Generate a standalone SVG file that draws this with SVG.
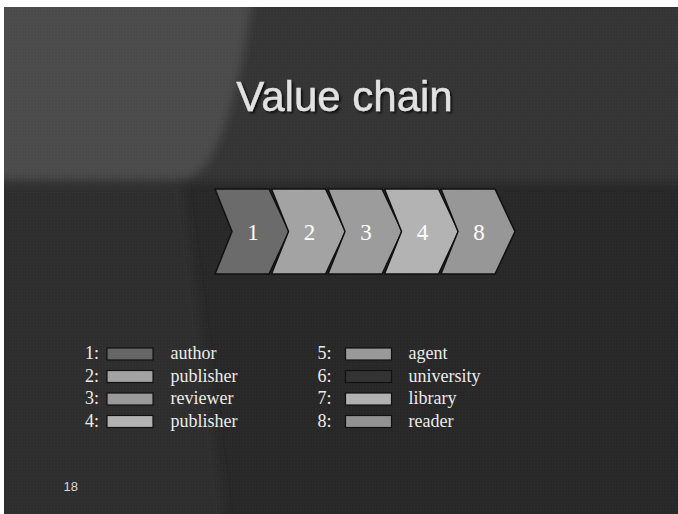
<svg xmlns="http://www.w3.org/2000/svg" width="678" height="514" viewBox="0 0 678 514">
  <defs>
    <filter id="blur" x="-10%" y="-10%" width="120%" height="120%">
      <feGaussianBlur stdDeviation="5"/>
    </filter>
    <filter id="shadow" x="-10%" y="-20%" width="120%" height="140%">
      <feGaussianBlur in="SourceAlpha" stdDeviation="0.8"/>
      <feOffset dx="2" dy="2" result="o"/>
      <feFlood flood-color="#000" flood-opacity="0.7"/>
      <feComposite in2="o" operator="in"/>
      <feMerge><feMergeNode/><feMergeNode in="SourceGraphic"/></feMerge>
    </filter>
    <pattern id="dots" width="3" height="3" patternUnits="userSpaceOnUse">
      <rect x="0" y="0" width="1" height="1" fill="#ffffff" fill-opacity="0.03"/>
    </pattern>
    <clipPath id="slide"><rect x="4" y="7" width="674" height="507"/></clipPath>
  </defs>
  <style>
    .chev { stroke: #111; stroke-width: 1.5; stroke-linejoin: miter; }
    .num { font-family: "Liberation Serif", "Times New Roman", serif; font-size: 23px; fill: #ffffff; text-anchor: middle; }
    .leg { font-family: "Liberation Serif", "Times New Roman", serif; font-size: 18px; fill: #ececec; }
    .sw { stroke: #111; stroke-width: 1.2; }
  </style>
  <rect x="0" y="0" width="678" height="514" fill="#ffffff"/>
  <g id="background" clip-path="url(#slide)">
    <rect x="4" y="7" width="674" height="507" fill="#282828"/>
    <g filter="url(#blur)">
      <rect x="-20" y="-20" width="720" height="202" fill="#363636"/>
      <path d="M-20,184 L183,184 C198,300 214,420 228,540 L-20,540 Z" fill="#2d2d2d"/>
      <path d="M-20,-20 L254,-20 C244,60 230,130 205,165 Q193,179 178,179 L-20,179 Z" fill="#4b4b4b"/>
    </g>
    <rect x="4" y="7" width="674" height="507" fill="url(#dots)"/>
  </g>
  <g id="title" filter="url(#shadow)">
    <text x="344.5" y="111" font-family="'Liberation Sans', Arial, sans-serif" font-size="42" fill="#e2e2e2" stroke="#e2e2e2" stroke-width="0.4" text-anchor="middle">Value chain</text>
  </g>
  <g id="chain">
    <g id="chev1">
      <path class="chev" fill="#6b6b6b" d="M215,189 L269,189 L289,231.5 L269,274 L215,274 L232,231.5 Z"/>
      <text class="num" x="253" y="240">1</text>
    </g>
    <g id="chev2">
      <path class="chev" fill="#a3a3a3" d="M271.5,189 L325.5,189 L345.5,231.5 L325.5,274 L271.5,274 L288.5,231.5 Z"/>
      <text class="num" x="309.5" y="240">2</text>
    </g>
    <g id="chev3">
      <path class="chev" fill="#9c9c9c" d="M328,189 L382,189 L402,231.5 L382,274 L328,274 L345,231.5 Z"/>
      <text class="num" x="366" y="240">3</text>
    </g>
    <g id="chev4">
      <path class="chev" fill="#b3b3b3" d="M384.5,189 L438.5,189 L458.5,231.5 L438.5,274 L384.5,274 L401.5,231.5 Z"/>
      <text class="num" x="422.5" y="240">4</text>
    </g>
    <g id="chev8">
      <path class="chev" fill="#979797" d="M441,189 L495,189 L515,231.5 L495,274 L441,274 L458,231.5 Z"/>
      <text class="num" x="479" y="240">8</text>
    </g>
  </g>
  <g id="connectors"></g>
  <g id="legend">
    <g id="leg1"><text class="leg" x="85" y="359">1:</text><rect class="sw" x="107" y="348" width="46" height="12" fill="#666666"/><text class="leg" x="170.5" y="359">author</text></g>
    <g id="leg2"><text class="leg" x="85" y="381.5">2:</text><rect class="sw" x="107" y="370.5" width="46" height="12" fill="#a2a2a2"/><text class="leg" x="170.5" y="381.5">publisher</text></g>
    <g id="leg3"><text class="leg" x="85" y="404">3:</text><rect class="sw" x="107" y="393" width="46" height="12" fill="#9a9a9a"/><text class="leg" x="170.5" y="404">reviewer</text></g>
    <g id="leg4"><text class="leg" x="85" y="426.5">4:</text><rect class="sw" x="107" y="415.5" width="46" height="12" fill="#b2b2b2"/><text class="leg" x="170.5" y="426.5">publisher</text></g>
    <g id="leg5"><text class="leg" x="317.5" y="359">5:</text><rect class="sw" x="345.5" y="348" width="46" height="12" fill="#999999"/><text class="leg" x="408.5" y="359">agent</text></g>
    <g id="leg6"><text class="leg" x="317.5" y="381.5">6:</text><rect class="sw" x="345.5" y="370.5" width="46" height="12" fill="#333333"/><text class="leg" x="408.5" y="381.5">university</text></g>
    <g id="leg7"><text class="leg" x="317.5" y="404">7:</text><rect class="sw" x="345.5" y="393" width="46" height="12" fill="#b2b2b2"/><text class="leg" x="408.5" y="404">library</text></g>
    <g id="leg8"><text class="leg" x="317.5" y="426.5">8:</text><rect class="sw" x="345.5" y="415.5" width="46" height="12" fill="#929292"/><text class="leg" x="408.5" y="426.5">reader</text></g>
  </g>
  <text id="page" x="63.5" y="490.5" font-family="'Liberation Sans', Arial, sans-serif" font-size="13" fill="#d8d8d8">18</text>
</svg>
